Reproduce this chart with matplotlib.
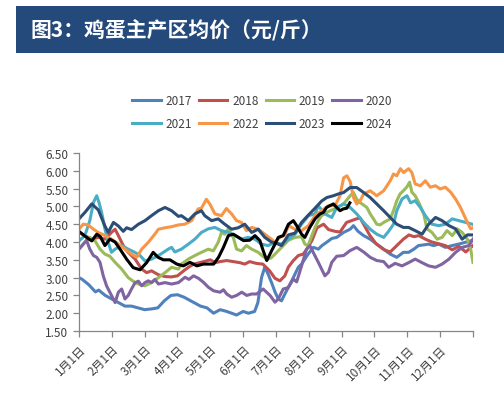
import matplotlib
matplotlib.use('Agg')
import matplotlib.pyplot as plt
from matplotlib.patches import Rectangle

plt.rcParams['font.family'] = ['Noto Sans CJK SC', 'DejaVu Sans']

# (month position, price)
d2017 = [(0, 3.0), (0.1, 2.95), (0.3, 2.8), (0.5, 2.6), (0.6, 2.65), (0.8, 2.5), (1.0, 2.4), (1.2, 2.3),
         (1.4, 2.2), (1.6, 2.2), (1.8, 2.15), (2.0, 2.1), (2.2, 2.12), (2.4, 2.15), (2.6, 2.35), (2.8, 2.5),
         (3.0, 2.52), (3.2, 2.45), (3.5, 2.3), (3.7, 2.2), (3.9, 2.15), (4.1, 2.0), (4.3, 2.1), (4.5, 2.05),
         (4.65, 2.0), (4.8, 1.95), (5.0, 2.05), (5.16, 2.0), (5.35, 2.05), (5.45, 2.3), (5.56, 3.0), (5.66, 3.3),
         (5.76, 3.1), (5.87, 2.85), (5.97, 2.6), (6.07, 2.4), (6.17, 2.35), (6.27, 2.54), (6.38, 2.73),
         (6.48, 2.91), (6.58, 3.1), (6.68, 3.29), (6.78, 3.38), (6.88, 3.52), (6.98, 3.66), (7.14, 3.85),
         (7.29, 3.8), (7.4, 3.9), (7.54, 3.99), (7.7, 4.1), (7.85, 4.13), (8.06, 4.27), (8.26, 4.36),
         (8.36, 4.46), (8.5, 4.3), (8.67, 4.18), (8.87, 4.08), (9.07, 3.94), (9.28, 3.8), (9.48, 3.66),
         (9.68, 3.57), (9.88, 3.71), (10.04, 3.71), (10.2, 3.8), (10.34, 3.9), (10.5, 3.92), (10.65, 3.94),
         (10.8, 3.9), (10.96, 3.94), (11.16, 3.85), (11.37, 3.9), (11.6, 3.95), (11.8, 4.0), (12.0, 4.05)]

d2018 = [(0, 4.27), (0.18, 4.18), (0.39, 4.08), (0.59, 4.13), (0.79, 4.08), (0.99, 4.27), (1.1, 4.36),
         (1.2, 4.18), (1.35, 3.9), (1.5, 3.71), (1.71, 3.52), (1.91, 3.24), (2.06, 3.14), (2.21, 3.19),
         (2.42, 3.08), (2.62, 3.03), (2.82, 3.02), (3.0, 3.05), (3.2, 3.2), (3.35, 3.3), (3.5, 3.38),
         (3.8, 3.45), (4.0, 3.5), (4.15, 3.42), (4.3, 3.45), (4.5, 3.48), (4.7, 3.45), (4.9, 3.42),
         (5.05, 3.38), (5.2, 3.45), (5.4, 3.4), (5.6, 3.38), (5.8, 3.2), (5.97, 2.98), (6.12, 2.91),
         (6.27, 3.05), (6.38, 3.3), (6.53, 3.48), (6.68, 3.62), (6.83, 3.66), (6.98, 3.85), (7.1, 4.05),
         (7.25, 4.4), (7.45, 4.5), (7.6, 4.35), (7.8, 4.3), (7.95, 4.28), (8.15, 4.55), (8.3, 4.6),
         (8.45, 4.65), (8.56, 4.68), (8.7, 4.45), (8.85, 4.2), (9.05, 3.95), (9.3, 3.78), (9.48, 3.72),
         (9.68, 3.9), (9.88, 4.08), (10.05, 4.2), (10.2, 4.15), (10.35, 4.18), (10.55, 4.08), (10.75, 4.0),
         (10.96, 3.95), (11.16, 3.9), (11.37, 3.78), (11.57, 3.88), (11.78, 3.72), (12.0, 3.9)]

d2019 = [(0, 3.8), (0.18, 3.99), (0.33, 4.13), (0.49, 4.03), (0.64, 3.8), (0.79, 3.66), (0.94, 3.6),
         (1.1, 3.43), (1.3, 3.24), (1.5, 3.0), (1.71, 2.86), (1.81, 2.82), (2.01, 2.77), (2.21, 2.86),
         (2.42, 3.0), (2.62, 3.14), (2.82, 3.29), (3.03, 3.24), (3.12, 3.38), (3.33, 3.52), (3.53, 3.62),
         (3.73, 3.71), (3.94, 3.8), (4.09, 3.75), (4.24, 3.99), (4.34, 4.27), (4.44, 4.22), (4.55, 4.37),
         (4.7, 4.13), (4.8, 3.8), (4.95, 3.75), (5.1, 3.9), (5.26, 3.8), (5.46, 3.71), (5.6, 3.6),
         (5.72, 3.52), (5.85, 3.55), (5.97, 3.66), (6.17, 3.85), (6.38, 4.05), (6.58, 4.13), (6.78, 4.15),
         (6.88, 3.94), (6.98, 3.9), (7.08, 4.15), (7.19, 4.41), (7.29, 4.6), (7.39, 4.74), (7.54, 4.83),
         (7.7, 4.9), (7.85, 4.95), (8.06, 5.07), (8.26, 5.3), (8.36, 5.39), (8.46, 5.2), (8.56, 5.11),
         (8.77, 4.97), (8.87, 4.79), (8.97, 4.65), (9.07, 4.5), (9.17, 4.48), (9.28, 4.55), (9.38, 4.6),
         (9.48, 4.65), (9.58, 4.88), (9.68, 5.16), (9.78, 5.35), (9.88, 5.44), (9.99, 5.55), (10.07, 5.68),
         (10.14, 5.4), (10.24, 5.3), (10.35, 5.11), (10.5, 4.79), (10.6, 4.37), (10.75, 4.27), (10.91, 4.08),
         (11.06, 4.13), (11.21, 4.32), (11.37, 4.18), (11.52, 4.37), (11.67, 4.27), (11.83, 4.08),
         (11.93, 3.8), (12.0, 3.43)]

d2020 = [(0, 3.8), (0.13, 3.94), (0.23, 4.05), (0.33, 3.8), (0.44, 3.62), (0.54, 3.57), (0.64, 3.43),
         (0.74, 3.05), (0.84, 2.77), (0.99, 2.5), (1.1, 2.3), (1.2, 2.59), (1.3, 2.68), (1.4, 2.4), (1.5, 2.5),
         (1.6, 2.68), (1.71, 2.86), (1.81, 2.9), (1.91, 2.77), (2.01, 2.86), (2.11, 2.91), (2.21, 2.86),
         (2.31, 2.95), (2.42, 2.82), (2.62, 2.86), (2.82, 2.82), (3.03, 2.86), (3.23, 3.01), (3.35, 2.95),
         (3.49, 3.05), (3.64, 2.98), (3.79, 2.87), (3.94, 2.73), (4.1, 2.63), (4.3, 2.59), (4.4, 2.66),
         (4.5, 2.54), (4.65, 2.45), (4.8, 2.5), (4.96, 2.59), (5.11, 2.5), (5.26, 2.54), (5.41, 2.54),
         (5.61, 2.68), (5.82, 2.5), (5.97, 2.31), (6.07, 2.4), (6.22, 2.68), (6.37, 2.72), (6.53, 2.96),
         (6.63, 2.88), (6.78, 3.33), (6.93, 3.8), (7.03, 3.9), (7.14, 3.7), (7.29, 3.43), (7.49, 3.05),
         (7.6, 3.15), (7.7, 3.43), (7.85, 3.6), (8.06, 3.62), (8.26, 3.76), (8.46, 3.85), (8.67, 3.72),
         (8.87, 3.57), (9.07, 3.48), (9.28, 3.45), (9.43, 3.29), (9.63, 3.4), (9.84, 3.33), (10.04, 3.42),
         (10.24, 3.52), (10.45, 3.42), (10.65, 3.33), (10.86, 3.29), (11.06, 3.38), (11.27, 3.52),
         (11.47, 3.71), (11.67, 3.85), (11.88, 3.9), (12.0, 4.08)]

d2021 = [(0, 4.03), (0.18, 4.18), (0.33, 4.6), (0.44, 5.11), (0.54, 5.3), (0.61, 5.11), (0.69, 4.83),
         (0.79, 4.37), (0.89, 3.99), (0.99, 3.71), (1.1, 3.8), (1.3, 3.9), (1.5, 3.8), (1.7, 3.71),
         (1.86, 3.62), (2.01, 3.47), (2.21, 3.52), (2.42, 3.62), (2.57, 3.71), (2.72, 3.8), (2.82, 3.85),
         (2.92, 3.72), (3.12, 3.8), (3.33, 3.94), (3.53, 4.08), (3.73, 4.27), (3.94, 4.37), (4.14, 4.41),
         (4.34, 4.32), (4.55, 4.27), (4.75, 4.18), (4.95, 4.08), (5.15, 4.13), (5.36, 4.08), (5.56, 3.94),
         (5.76, 3.9), (5.97, 3.99), (6.17, 3.94), (6.38, 4.08), (6.58, 4.22), (6.78, 4.5), (6.99, 4.74),
         (7.19, 4.79), (7.29, 5.02), (7.49, 4.79), (7.7, 4.69), (7.85, 4.97), (8.06, 5.07), (8.26, 4.97),
         (8.46, 4.79), (8.67, 4.55), (8.87, 4.36), (9.07, 4.22), (9.28, 4.13), (9.43, 4.3), (9.58, 4.5),
         (9.68, 4.88), (9.84, 5.21), (9.99, 5.3), (10.1, 5.1), (10.24, 5.16), (10.4, 4.97), (10.55, 4.74),
         (10.75, 4.5), (10.96, 4.46), (11.16, 4.5), (11.37, 4.65), (11.57, 4.6), (11.78, 4.55), (11.98, 4.5)]

d2022 = [(0, 4.36), (0.13, 4.5), (0.28, 4.48), (0.44, 4.36), (0.59, 4.27), (0.79, 4.18), (0.99, 4.08),
         (1.2, 3.94), (1.4, 3.8), (1.6, 3.66), (1.76, 3.57), (1.91, 3.8), (2.11, 3.99), (2.31, 4.22),
         (2.42, 4.36), (2.62, 4.4), (2.82, 4.43), (3.03, 4.48), (3.22, 4.5), (3.43, 4.6), (3.63, 4.93),
         (3.73, 4.95), (3.88, 5.2), (3.99, 5.06), (4.14, 4.79), (4.34, 4.74), (4.49, 4.94), (4.65, 4.79),
         (4.8, 4.6), (4.95, 4.55), (5.1, 4.32), (5.26, 4.41), (5.46, 4.36), (5.66, 4.22), (5.86, 4.08),
         (5.97, 3.99), (6.12, 4.13), (6.27, 4.2), (6.38, 4.46), (6.58, 4.36), (6.78, 4.32), (6.99, 4.46),
         (7.19, 4.74), (7.39, 4.88), (7.6, 5.02), (7.8, 5.02), (7.95, 5.3), (8.06, 5.8), (8.16, 5.86),
         (8.26, 5.7), (8.36, 5.25), (8.46, 5.07), (8.56, 5.15), (8.67, 5.35), (8.87, 5.44), (9.07, 5.3),
         (9.28, 5.44), (9.48, 5.72), (9.58, 5.91), (9.68, 5.86), (9.79, 6.06), (9.89, 5.95), (10.04, 6.06),
         (10.14, 5.95), (10.24, 5.63), (10.4, 5.58), (10.55, 5.72), (10.7, 5.54), (10.86, 5.58), (11.0, 5.49),
         (11.16, 5.54), (11.32, 5.4), (11.47, 5.21), (11.62, 4.97), (11.78, 4.65), (11.93, 4.37), (12.0, 4.4)]

d2023 = [(0, 4.65), (0.18, 4.83), (0.39, 5.07), (0.59, 4.9), (0.79, 4.45), (0.89, 4.27), (1.05, 4.55),
         (1.2, 4.45), (1.35, 4.3), (1.45, 4.4), (1.6, 4.35), (1.81, 4.5), (2.01, 4.6), (2.21, 4.74),
         (2.42, 4.88), (2.62, 4.97), (2.82, 4.88), (3.03, 4.72), (3.12, 4.74), (3.33, 4.6), (3.53, 4.79),
         (3.73, 4.88), (3.83, 4.74), (4.04, 4.6), (4.24, 4.65), (4.44, 4.5), (4.65, 4.36), (4.85, 4.4),
         (5.05, 4.5), (5.26, 4.27), (5.46, 4.36), (5.66, 4.13), (5.86, 4.0), (5.97, 3.98), (6.17, 3.9),
         (6.38, 4.2), (6.58, 4.25), (6.78, 4.55), (6.98, 4.75), (7.19, 4.95), (7.39, 5.15), (7.55, 5.25),
         (7.75, 5.3), (7.9, 5.35), (8.06, 5.39), (8.26, 5.53), (8.46, 5.53), (8.67, 5.39), (8.87, 5.25),
         (9.07, 5.07), (9.28, 4.88), (9.48, 4.69), (9.68, 4.5), (9.88, 4.41), (10.04, 4.41), (10.24, 4.32),
         (10.45, 4.22), (10.65, 4.5), (10.86, 4.69), (11.06, 4.6), (11.27, 4.46), (11.47, 4.37),
         (11.67, 4.08), (11.83, 4.2), (12.0, 4.2)]

d2024 = [(0, 4.3), (0.23, 4.13), (0.39, 4.03), (0.54, 4.22), (0.65, 4.15), (0.79, 3.9), (0.94, 4.08),
         (1.1, 4.0), (1.25, 3.8), (1.45, 3.52), (1.65, 3.28), (1.86, 3.22), (2.06, 3.42), (2.26, 3.71),
         (2.41, 3.57), (2.57, 3.5), (2.77, 3.5), (2.98, 3.38), (3.18, 3.33), (3.38, 3.43), (3.59, 3.33),
         (3.79, 3.38), (4.1, 3.38), (4.25, 3.57), (4.4, 3.85), (4.55, 4.18), (4.7, 4.22), (4.86, 4.13),
         (5.01, 4.04), (5.2, 4.05), (5.36, 4.18), (5.51, 4.04), (5.61, 3.76), (5.72, 3.48), (5.87, 3.76),
         (5.97, 3.94), (6.07, 4.13), (6.22, 4.18), (6.38, 4.5), (6.53, 4.6), (6.63, 4.46), (6.78, 4.22),
         (6.88, 4.13), (7.03, 4.41), (7.19, 4.65), (7.34, 4.79), (7.44, 4.83), (7.54, 4.97), (7.64, 5.02),
         (7.75, 5.07), (7.85, 4.97), (7.95, 4.88), (8.05, 4.93), (8.16, 4.95), (8.25, 5.1)]

years = ['2017', '2018', '2019', '2020', '2021', '2022', '2023', '2024']
series = [d2017, d2018, d2019, d2020, d2021, d2022, d2023, d2024]
colors = ['#4f81bd', '#c0504d', '#9bbb59', '#8064a2', '#4bacc6', '#f79646', '#2c4d75', '#000000']
month_labels = [f'{m}月1日' for m in range(1, 13)]

fig = plt.figure(figsize=(5.04, 4.14), dpi=100)

# title bar
fig.patches.append(Rectangle((0.032, 0.870), 0.968, 0.113, transform=fig.transFigure,
                             facecolor='#244a7c', edgecolor='none'))
fig.text(0.06, 0.926, '图3：鸡蛋主产区均价（元/斤）', color='white', fontsize=15,
         fontweight='bold', va='center', ha='left')

ax = fig.add_axes([0.1567, 0.198, 0.7817, 0.430])
lines = []
for yr, d, c in zip(years, series, colors):
    xs = [p[0] for p in d]
    ys = [p[1] for p in d]
    ln, = ax.plot(xs, ys, color=c, lw=2.2, label=yr, solid_joinstyle='round')
    lines.append(ln)

ax.set_xlim(0, 12)
ax.set_ylim(1.5, 6.5)
ax.set_yticks([1.5 + 0.5 * i for i in range(11)])
ax.set_yticklabels([f'{1.5 + 0.5 * i:.2f}' for i in range(11)])
ax.set_xticks(range(13))
ax.set_xticklabels(month_labels + [''], rotation=45, ha='right', va='top',
                   rotation_mode='anchor')
for s in ['top', 'right']:
    ax.spines[s].set_visible(False)
for s in ['left', 'bottom']:
    ax.spines[s].set_color('#868686')
    ax.spines[s].set_linewidth(0.9)
ax.tick_params(axis='both', colors='#868686', labelcolor='#404040', labelsize=8.5,
               length=4, width=0.9, direction='out')
ax.tick_params(axis='x', pad=4)

# legend filled row by row: 2017-2020 on top, 2021-2024 below
order = [0, 4, 1, 5, 2, 6, 3, 7]
fig.legend([lines[i] for i in order], [years[i] for i in order],
           loc='center', bbox_to_anchor=(0.52, 0.727), ncol=4, frameon=False,
           fontsize=8.5, handlelength=2.4, columnspacing=0.6, handletextpad=0.4,
           labelspacing=0.9, labelcolor='#404040')

fig.savefig('out.png', dpi=100)
